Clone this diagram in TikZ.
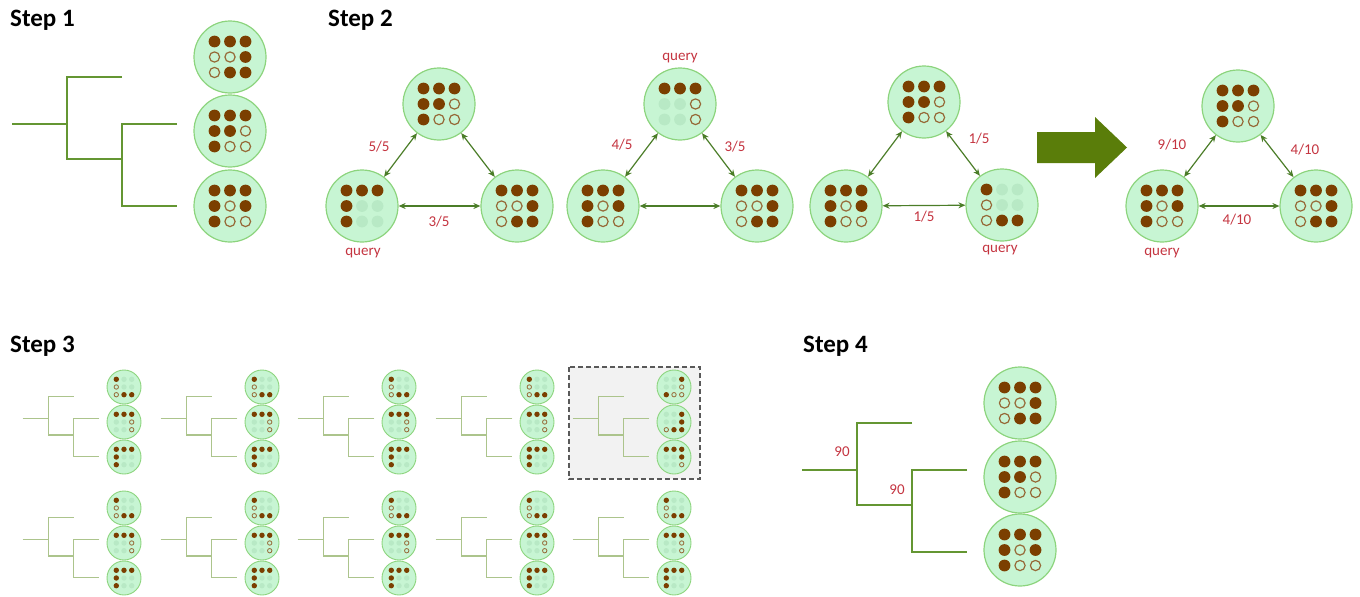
\documentclass[tikz,border=0pt]{standalone}
\usepackage{fontspec}
\setmainfont{Carlito}
\usetikzlibrary{arrows.meta}
\definecolor{cfill}{RGB}{199,245,211}
\definecolor{cdraw}{RGB}{140,212,125}
\definecolor{dotbrown}{RGB}{123,63,0}
\definecolor{ringbrown}{RGB}{150,105,55}
\definecolor{ghost}{RGB}{184,233,197}
\definecolor{treegreen}{RGB}{100,150,50}
\definecolor{treelight}{RGB}{172,196,140}
\definecolor{edgegreen}{RGB}{75,125,40}
\definecolor{lblred}{RGB}{196,52,64}
\definecolor{bigarrowc}{RGB}{90,125,10}
\def\PatA{F,F,F,O,O,F,O,F,F}
\def\PatB{F,F,F,F,F,O,F,O,O}
\def\PatC{F,F,F,F,O,F,F,O,O}
\def\PatQa{F,F,F,F,G,G,F,G,G}
\def\PatQb{F,F,F,G,G,O,G,G,O}
\def\PatQc{F,G,G,O,G,G,O,F,F}
\def\PatDa{G,G,F,G,G,O,F,O,O}
\def\PatDb{G,G,F,G,G,F,O,F,F}
\def\PatDc{F,F,F,G,G,F,G,G,O}
\newcommand\dotgrid[6]{%
  \foreach \c [count=\i from 0] in #6 {%
    \pgfmathtruncatemacro\col{mod(\i,3)}%
    \pgfmathtruncatemacro\row{div(\i,3)}%
    \coordinate (dg) at ([shift={({(\col-1)*#2},{(\row-1)*#2})}]#1.center);%
    \if\c F\fill[dotbrown] (dg) circle[radius=#3];\fi
    \if\c O\draw[ringbrown, line width=#5, fill=cfill] (dg) circle[radius=#4];\fi
    \if\c G\fill[ghost] (dg) circle[radius=#3];\fi
  }%
}
\newcommand\bigdots[2]{\dotgrid{#1}{15.5}{5.9pt}{5.1pt}{1.2pt}{#2}}
\newcommand\smalldots[2]{\dotgrid{#1}{7.7}{2.7pt}{2.2pt}{0.8pt}{#2}}
\newcommand\drawtree[4]{%
  \begin{scope}[shift={(#1,#2)}, scale=#3]
    \draw[#4] (-218,-7) -- (-163,-7);
    \draw[#4] (-108,-54) -- (-163,-54) -- (-163,28) -- (-108,28);
    \draw[#4] (-53,-7) -- (-108,-7) -- (-108,75) -- (-53,75);
  \end{scope}}
\begin{document}
\begin{tikzpicture}[x=1pt,y=-1pt,
  bigc/.style={circle, minimum size=72pt, inner sep=0pt, fill=cfill, draw=cdraw, line width=1.2pt},
  smallc/.style={circle, minimum size=34pt, inner sep=0pt, fill=cfill, draw=cdraw, line width=0.9pt},
  tree1/.style={draw=treegreen, line width=1.5pt},
  tree3/.style={draw=treelight, line width=1.2pt},
  edge/.style={>={Stealth[length=7pt,width=6pt]}, <->, draw=edgegreen, line width=1.2pt},
  lbl/.style={text=lblred, font=\fontsize{15}{15}\selectfont, inner sep=0pt},
  steplbl/.style={font=\fontsize{25}{25}\selectfont\bfseries, inner sep=0pt, anchor=base west},
  dashbox/.style={fill=black!5, draw=black!65, line width=1.2pt, dash pattern=on 5pt off 3pt}]
\useasboundingbox (0,0) rectangle (1360,597);

% titles
\node[steplbl] (t1) at (10,27) {Step 1};
\node[steplbl] (t2) at (328,27) {Step 2};
\node[steplbl] (t3) at (10,352) {Step 3};
\node[steplbl] (t4) at (803,352) {Step 4};

% Step 1
\drawtree{230}{131}{1}{tree1}
\node[bigc] (s1a) at (230,57) {};
\node[bigc] (s1b) at (230,131) {};
\node[bigc] (s1c) at (230,206) {};
\bigdots{s1a}{\PatA}
\bigdots{s1b}{\PatB}
\bigdots{s1c}{\PatC}

% Step 2, graph 1
\node[bigc] (g1t) at (439,104) {};
\node[bigc] (g1l) at (362,206) {};
\node[bigc] (g1r) at (517,206) {};
\bigdots{g1t}{\PatB}
\bigdots{g1l}{\PatQa}
\bigdots{g1r}{\PatA}
\draw[edge] (g1t) -- (g1l);
\draw[edge] (g1t) -- (g1r);
\draw[edge] (g1l) -- (g1r);
\node[lbl] (l1a) at (379,147) {5/5};
\node[lbl] (l1b) at (439,222) {3/5};
\node[lbl] (l1q) at (363,253) {query};

% graph 2
\node[bigc] (g2t) at (680,104) {};
\node[bigc] (g2l) at (603,206) {};
\node[bigc] (g2r) at (757,206) {};
\bigdots{g2t}{\PatQb}
\bigdots{g2l}{\PatC}
\bigdots{g2r}{\PatA}
\draw[edge] (g2t) -- (g2l);
\draw[edge] (g2t) -- (g2r);
\draw[edge] (g2l) -- (g2r);
\node[lbl] (l2q) at (680,58) {query};
\node[lbl] (l2a) at (622,145) {4/5};
\node[lbl] (l2b) at (735,147) {3/5};

% graph 3
\node[bigc] (g3t) at (924,102) {};
\node[bigc] (g3l) at (846,206) {};
\node[bigc] (g3r) at (1002,205) {};
\bigdots{g3t}{\PatB}
\bigdots{g3l}{\PatC}
\bigdots{g3r}{\PatQc}
\draw[edge] (g3t) -- (g3l);
\draw[edge] (g3t) -- (g3r);
\draw[edge] (g3l) -- (g3r);
\node[lbl] (l3a) at (979,139) {1/5};
\node[lbl] (l3b) at (924,217) {1/5};
\node[lbl] (l3q) at (1000,250) {query};

% big arrow
\fill[bigarrowc] (1037,132) -- (1095,132) -- (1095,117) -- (1127,147.5) -- (1095,178) -- (1095,163) -- (1037,163) -- cycle;

% graph 4
\node[bigc] (g4t) at (1238,106) {};
\node[bigc] (g4l) at (1162,206) {};
\node[bigc] (g4r) at (1316,206) {};
\bigdots{g4t}{\PatB}
\bigdots{g4l}{\PatC}
\bigdots{g4r}{\PatA}
\draw[edge] (g4t) -- (g4l);
\draw[edge] (g4t) -- (g4r);
\draw[edge] (g4l) -- (g4r);
\node[lbl] (l4a) at (1172,145) {9/10};
\node[lbl] (l4b) at (1305,150) {4/10};
\node[lbl] (l4c) at (1237,220) {4/10};
\node[lbl] (l4q) at (1162,253) {query};

% Step 3
\draw[dashbox] (569,367) rectangle (700,479);
\foreach \sx in {124,262,399,537,674}{
  \foreach \sy in {422,543}{
    \drawtree{\sx}{\sy}{0.465}{tree3}
    \node[smallc] (a\sx-\sy) at (\sx,\sy-35) {};
    \node[smallc] (b\sx-\sy) at (\sx,\sy) {};
    \node[smallc] (c\sx-\sy) at (\sx,\sy+35) {};
    \pgfmathtruncatemacro\isdash{(\sx==674)*(\sy==422)}
    \ifnum\isdash=1
      \smalldots{a\sx-\sy}{\PatDa}
      \smalldots{b\sx-\sy}{\PatDb}
      \smalldots{c\sx-\sy}{\PatDc}
    \else
      \smalldots{a\sx-\sy}{\PatQc}
      \smalldots{b\sx-\sy}{\PatQb}
      \smalldots{c\sx-\sy}{\PatQa}
    \fi
  }
}

% Step 4
\drawtree{1020}{477}{1}{tree1}
\node[bigc] (s4a) at (1020,403) {};
\node[bigc] (s4b) at (1020,477) {};
\node[bigc] (s4c) at (1020,550) {};
\bigdots{s4a}{\PatA}
\bigdots{s4b}{\PatB}
\bigdots{s4c}{\PatC}
\node[lbl] (n1) at (842,452) {90};
\node[lbl] (n2) at (897,490) {90};
\end{tikzpicture}
\end{document}
